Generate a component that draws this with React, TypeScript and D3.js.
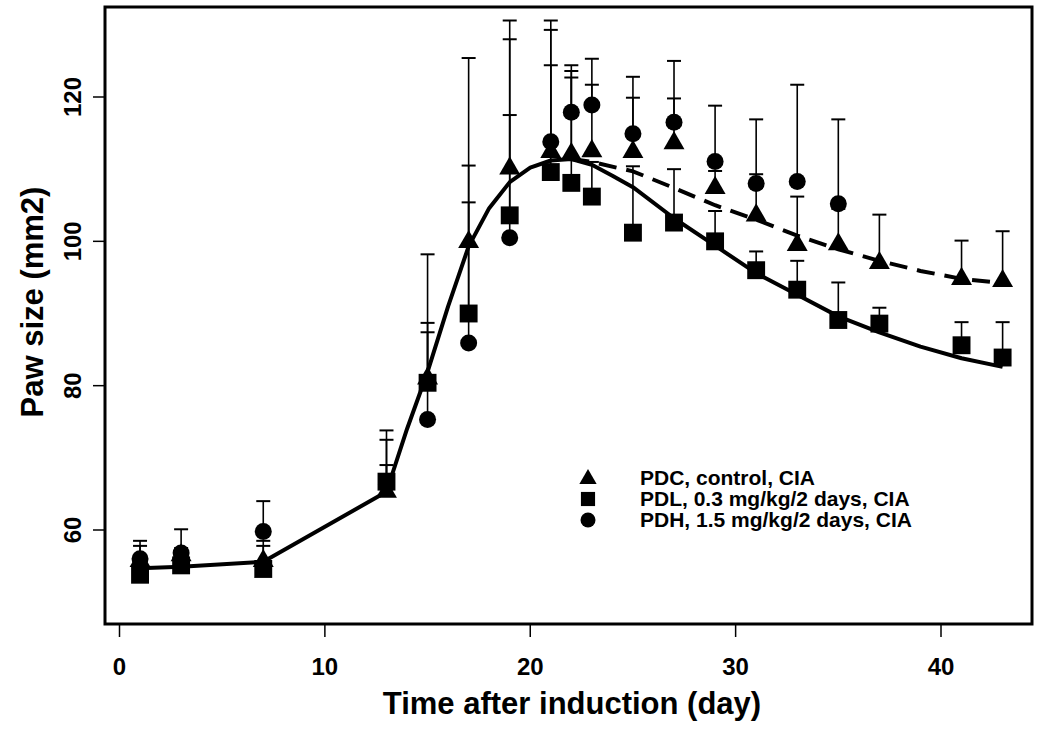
import React from 'react';
import * as d3 from 'd3';

// observed data (day, mean paw size, top of error bar)
const pdcDays = [1, 3, 7, 13, 15, 17, 19, 21, 22, 23, 25, 27, 29, 31, 33, 35, 37, 41, 43];
const pdcMean = [55.7, 56.5, 55.7, 65.3, 81.0, 99.9, 110.1, 112.4, 112.1, 112.5, 112.4, 113.6, 107.4, 103.6, 99.5, 99.6, 97.0, 94.8, 94.5];
const pdcTop = [57.8, 60.1, 58.5, 73.8, 98.2, 125.4, 130.6, 130.6, 123.6, 125.3, 122.8, 125.0, 109.75, 109.3, 106.2, 104.5, 103.7, 100.1, 101.4];

const pdlDays = [1, 3, 7, 13, 15, 17, 19, 21, 22, 23, 25, 27, 29, 31, 33, 35, 37, 41, 43];
const pdlMean = [53.8, 55.1, 54.6, 66.7, 80.4, 90.0, 103.6, 109.6, 108.1, 106.2, 101.2, 102.6, 100.0, 96.0, 93.3, 89.1, 88.6, 85.6, 83.9];
const pdlTop = [55.8, 56.2, 57.8, 69.0, 88.7, 110.5, 128.0, 124.4, 122.7, 111.0, 110.4, 110.0, 104.2, 98.6, 97.3, 94.3, 90.8, 88.8, 88.8];

const pdhDays = [1, 3, 7, 13, 15, 17, 19, 21, 22, 23, 25, 27, 29, 31, 33, 35];
const pdhMean = [56.0, 56.8, 59.8, 66.3, 75.3, 85.9, 100.5, 113.8, 117.9, 118.9, 114.9, 116.5, 111.05, 108.0, 108.3, 105.2];
const pdhTop = [58.5, 57.5, 64.0, 72.5, 87.4, 105.4, 117.5, 129.3, 124.4, 121.7, 119.9, 119.8, 118.8, 116.9, 121.7, 116.9];

// model fits
const fitDays = [1, 3, 7, 13, 14, 15, 16, 17, 18, 19, 20, 21, 22, 23, 24, 25, 27, 29, 31, 33, 35, 37, 39, 41, 43];
const fitPdl = [54.7, 54.9, 55.6, 65.3, 74.0, 81.9, 91.0, 99.3, 104.6, 108.2, 110.2, 111.2, 111.4, 110.6, 109.1, 107.5, 103.2, 99.4, 95.6, 92.6, 89.6, 87.4, 85.4, 83.8, 82.6];
const ctlDays = [22, 23, 25, 27, 29, 31, 33, 35, 37, 39, 41, 43];
const fitPdc = [111.4, 111.0, 109.7, 107.4, 105.0, 103.0, 100.8, 98.9, 97.3, 95.9, 94.8, 94.2];

const xTicks = [0, 10, 20, 30, 40];
const yTicks = [60, 80, 100, 120];
const legendLabels = ['PDC, control, CIA', 'PDL, 0.3 mg/kg/2 days, CIA', 'PDH, 1.5 mg/kg/2 days, CIA'];

const font = '"Liberation Sans", Arial, sans-serif';

const frame = { left: 105, right: 1032, top: 7, bottom: 624 };

const x = d3.scaleLinear().domain([0, 40]).range([119.5, 941]);
const y = d3.scaleLinear().domain([60, 120]).range([530, 97]);

const triPath = d3.symbol(d3.symbolTriangle, 190)();
const sqPath = d3.symbol(d3.symbolSquare, 320)();
const triSmall = d3.symbol(d3.symbolTriangle, 130)();
const sqSmall = d3.symbol(d3.symbolSquare, 200)();

const App = () => {
  const line = d3.line<number[]>().curve(d3.curveLinear);
  const solid = line(fitDays.map((d, i) => [x(d), y(fitPdl[i])]));
  const dashed = line(ctlDays.map((d, i) => [x(d), y(fitPdc[i])]));

  const errBars = (days: number[], mean: number[], top: number[], key: string) =>
    days.map((d, i) => (
      <g key={key + i} stroke="#000">
        <line x1={x(d)} x2={x(d)} y1={y(mean[i])} y2={y(top[i])} strokeWidth={1.6} />
        <line x1={x(d) - 7} x2={x(d) + 7} y1={y(top[i])} y2={y(top[i])} strokeWidth={2} />
      </g>
    ));

  return (
    <svg width={1050} height={729} style={{ position: 'absolute', left: 0, top: 0, background: '#fff' }}>
      <rect x={0} y={0} width={1050} height={729} fill="#fff" />
      <path d={solid || ''} fill="none" stroke="#000" strokeWidth={4} strokeLinejoin="round" />
      <path d={dashed || ''} fill="none" stroke="#000" strokeWidth={4} strokeDasharray="18,10" />

      {errBars(pdcDays, pdcMean, pdcTop, 'ec')}
      {errBars(pdlDays, pdlMean, pdlTop, 'el')}
      {errBars(pdhDays, pdhMean, pdhTop, 'eh')}

      {pdlDays.map((d, i) => (
        <path key={'l' + i} d={sqPath || ''} transform={`translate(${x(d)},${y(pdlMean[i])})`} fill="#000" />
      ))}
      {pdcDays.map((d, i) => (
        <path key={'c' + i} d={triPath || ''} transform={`translate(${x(d)},${y(pdcMean[i])})`} fill="#000" />
      ))}
      {pdhDays.map((d, i) => (
        <circle key={'h' + i} cx={x(d)} cy={y(pdhMean[i])} r={8.5} fill="#000" />
      ))}

      <rect x={frame.left} y={frame.top} width={frame.right - frame.left} height={frame.bottom - frame.top}
        fill="none" stroke="#000" strokeWidth={3} />

      {xTicks.map(t => (
        <g key={'xt' + t}>
          <line x1={x(t)} x2={x(t)} y1={frame.bottom} y2={frame.bottom + 13} stroke="#000" strokeWidth={1.5} />
          <text x={x(t)} y={675} textAnchor="middle" fontFamily={font} fontWeight="bold" fontSize={24}>{t}</text>
        </g>
      ))}
      {yTicks.map(t => (
        <g key={'yt' + t}>
          <line x1={frame.left - 12} x2={frame.left} y1={y(t)} y2={y(t)} stroke="#000" strokeWidth={1.5} />
          <text transform={`translate(81,${y(t)}) rotate(-90)`} textAnchor="middle" fontFamily={font}
            fontWeight="bold" fontSize={24}>{t}</text>
        </g>
      ))}

      <text x={572} y={714} textAnchor="middle" fontFamily={font} fontWeight="bold" fontSize={31}>
        Time after induction (day)
      </text>
      <text transform="translate(43,302) rotate(-90)" textAnchor="middle" fontFamily={font} fontWeight="bold" fontSize={31}>
        Paw size (mm2)
      </text>

      <g>
        <path d={triSmall || ''} transform="translate(588,479)" fill="#000" />
        <path d={sqSmall || ''} transform="translate(588,499)" fill="#000" />
        <circle cx={588} cy={520} r={7.5} fill="#000" />
        {legendLabels.map((l, i) => (
          <text key={l} x={640} y={485 + i * 21} fontFamily={font} fontWeight="bold" fontSize={21}>{l}</text>
        ))}
      </g>
    </svg>
  );
};

export default App;
